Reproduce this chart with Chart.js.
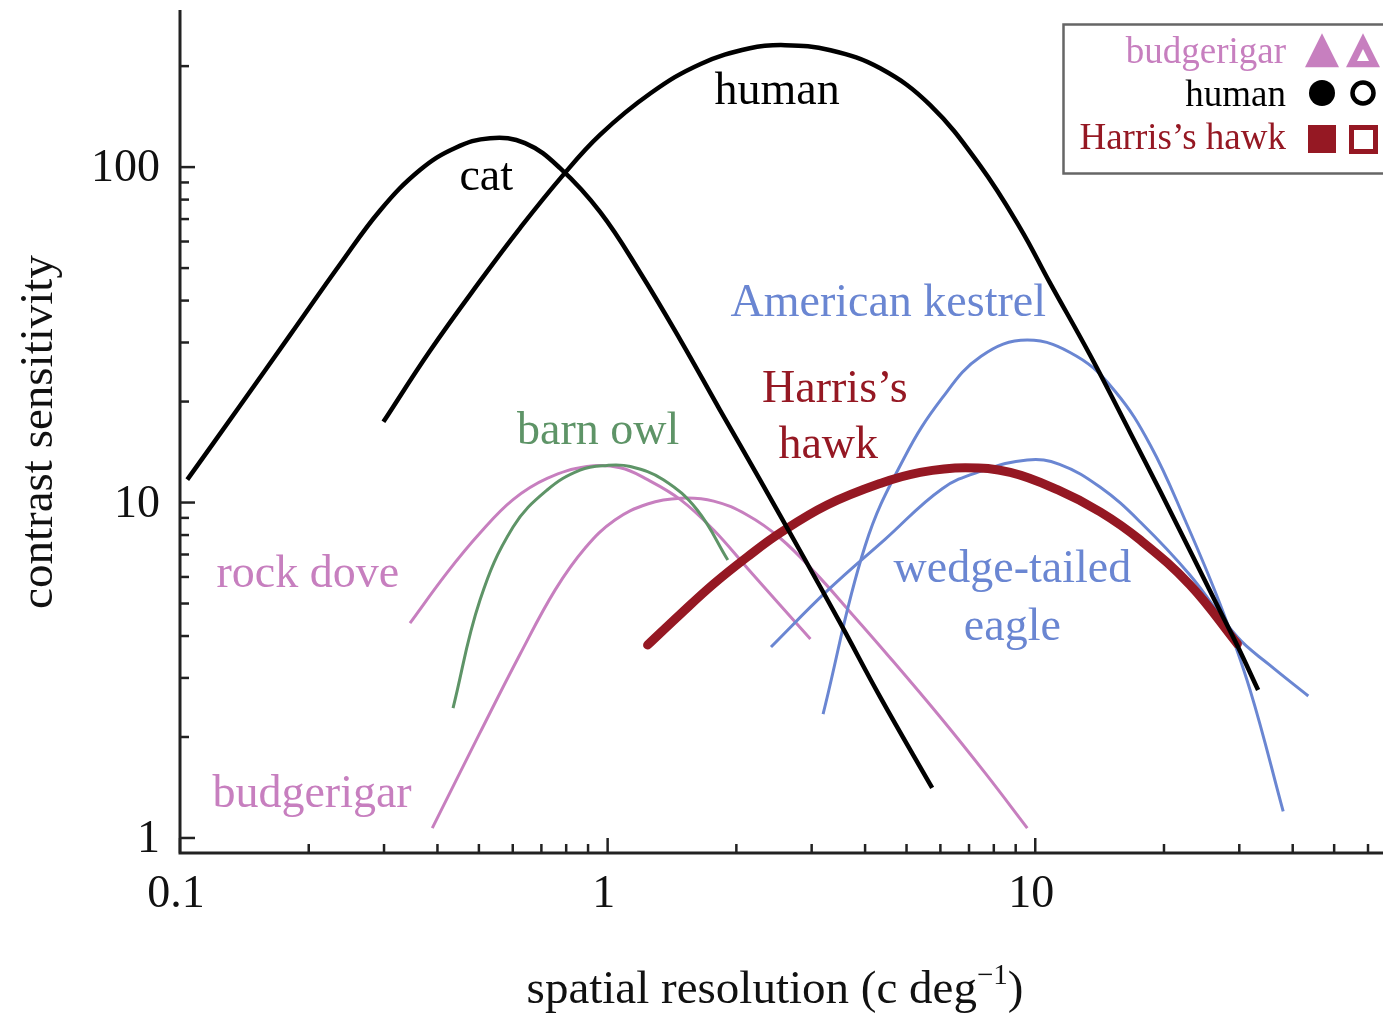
<!DOCTYPE html>
<html>
<head>
<meta charset="utf-8">
<script src="https://cdn.jsdelivr.net/npm/chart.js@4.4.1/dist/chart.umd.min.js"></script>
<style>
  html, body { margin: 0; padding: 0; background: #fff; }
  canvas { display: block; }
</style>
</head>
<body>
<canvas id="csf" width="1383" height="1015"></canvas>
<script>
// contrast sensitivity curves (x: c/deg, y: sensitivity)
const catX   = [0.104, 0.138, 0.181, 0.237, 0.294, 0.364, 0.440, 0.531, 0.641, 0.774, 0.961, 1.19, 1.48, 1.83, 2.27, 2.82, 3.50, 4.34, 5.74];
const catY   = [11.7, 19.4, 31.6, 51.4, 74.4, 98.0, 114.0, 122.0, 117.9, 99.3, 73.4, 48.6, 30.5, 18.9, 11.7, 7.17, 4.37, 2.63, 1.41];

const humanX = [0.299, 0.384, 0.503, 0.624, 0.783, 0.961, 1.26, 1.65, 2.15, 2.60, 3.32, 4.34, 5.68, 7.43, 9.22, 10.8, 13.5, 16.7, 19.6, 23.4, 26.4, 29.7, 33.2];
const humanY = [17.4, 28.3, 45.7, 65.8, 94.0, 125, 166, 203, 226, 231, 223, 197, 153, 101, 65.8, 45.4, 27.2, 16.1, 10.8, 6.88, 5.05, 3.74, 2.76];

const owlX   = [0.435, 0.503, 0.601, 0.722, 0.862, 0.997, 1.13, 1.35, 1.62, 1.91];
const owlY   = [2.44, 5.12, 8.45, 10.9, 12.5, 12.9, 12.8, 11.7, 9.50, 6.74];

const doveX  = [0.345, 0.421, 0.503, 0.601, 0.722, 0.895, 1.07, 1.24, 1.48, 1.77, 2.12, 2.53, 2.98];
const doveY  = [4.37, 6.17, 8.11, 10.2, 11.8, 12.8, 12.7, 11.7, 10.2, 8.28, 6.38, 4.95, 3.92];

const budgieX = [0.389, 0.503, 0.624, 0.754, 0.886, 1.04, 1.24, 1.48, 1.77, 2.12, 2.53, 3.06, 3.69, 4.46, 6.00, 7.64, 9.58];
const budgieY = [1.07, 2.06, 3.53, 5.49, 7.32, 8.87, 9.90, 10.3, 10.1, 9.18, 7.84, 6.17, 4.72, 3.58, 2.29, 1.56, 1.07];

const hawkX  = [1.24, 1.48, 1.77, 2.12, 2.53, 3.26, 4.34, 5.38, 6.86, 8.74, 11.3, 14.2, 17.6, 23.0, 29.7];
const hawkY  = [3.76, 4.65, 5.72, 6.88, 8.11, 9.83, 11.4, 12.3, 12.7, 12.3, 10.9, 9.37, 7.73, 5.68, 3.79];

const kestrelX = [3.19, 4.00, 4.94, 6.06, 7.47, 9.58, 12.5, 15.4, 18.6, 22.4, 27.1, 31.8, 38.0];
const kestrelY = [2.34, 7.42, 13.6, 20.5, 27.3, 30.5, 27.3, 21.4, 14.8, 8.87, 4.95, 2.76, 1.20];

const eagleX = [2.41, 3.26, 4.46, 6.06, 7.47, 9.58, 11.4, 14.2, 17.6, 23.0, 29.7, 35.3, 43.5];
const eagleY = [3.71, 5.45, 7.78, 11.0, 12.4, 13.4, 13.0, 11.1, 8.75, 6.08, 3.97, 3.28, 2.65];

// axis ticks
const xTicks  = [0.1, 0.2, 0.3, 0.4, 0.5, 0.6, 0.7, 0.8, 0.9, 1, 2, 3, 4, 5, 6, 7, 8, 9, 10, 20, 30, 40, 50, 60];
const xLabels = [0.1, 1, 10];
const yTicks  = [1, 2, 3, 4, 5, 6, 7, 8, 9, 10, 20, 30, 40, 50, 60, 70, 80, 90, 100, 200];
const yLabels = [1, 10, 100];

const BLACK = "#000000", PINK = "#c77fbf", GREEN = "#5e9467", BLUE = "#6a86d2", RED = "#951823";
const SERIF = "'Liberation Serif', 'DejaVu Serif', serif";

// curve name labels, placed in data coordinates
const notes = [
  { t: "human",            x: 2.49,  y: 167,  c: BLACK },
  { t: "cat",              x: 0.520, y: 92.7, c: BLACK },
  { t: "American kestrel", x: 4.53,  y: 39.0, c: BLUE },
  { t: "Harris\u2019s",    x: 3.40,  y: 21.6, c: RED },
  { t: "hawk",             x: 3.28,  y: 14.7, c: RED },
  { t: "barn owl",         x: 0.950, y: 16.2, c: GREEN },
  { t: "rock dove",        x: 0.199, y: 6.08, c: PINK },
  { t: "wedge-tailed",     x: 8.84,  y: 6.29, c: BLUE },
  { t: "eagle",            x: 8.84,  y: 4.23, c: BLUE },
  { t: "budgerigar",       x: 0.2036, y: 1.343, c: PINK }
];

const pts = (xs, ys) => xs.map((x, i) => ({ x, y: ys[i] }));
const line = (label, xs, ys, color, w, cap) => ({
  label, data: pts(xs, ys), borderColor: color, borderWidth: w,
  pointRadius: 0, fill: false, tension: 0.4, borderCapStyle: cap || "butt"
});

// ── axes, labels and legend drawn on top of the plot ──────────────────────
const decor = {
  id: "decor",
  afterDatasetsDraw(chart) {
    const { ctx, chartArea: a, scales: { x, y } } = chart;
    ctx.save();

    // curve labels
    ctx.font = "46px " + SERIF;
    ctx.textAlign = "center"; ctx.textBaseline = "middle";
    notes.forEach(n => {
      ctx.fillStyle = n.c;
      ctx.fillText(n.t, x.getPixelForValue(n.x), y.getPixelForValue(n.y));
    });

    // axis lines
    ctx.strokeStyle = "#222"; ctx.lineWidth = 3; ctx.lineCap = "butt";
    ctx.beginPath();
    ctx.moveTo(a.left, a.top); ctx.lineTo(a.left, a.bottom); ctx.lineTo(a.right + 3, a.bottom);
    ctx.stroke();

    // inward ticks
    ctx.lineWidth = 2.5;
    yTicks.forEach(v => {
      const p = y.getPixelForValue(v), len = yLabels.includes(v) ? 15 : 9;
      ctx.beginPath(); ctx.moveTo(a.left, p); ctx.lineTo(a.left + len, p); ctx.stroke();
    });
    xTicks.forEach(v => {
      const p = x.getPixelForValue(v), len = xLabels.includes(v) ? 15 : 9;
      ctx.beginPath(); ctx.moveTo(p, a.bottom); ctx.lineTo(p, a.bottom - len); ctx.stroke();
    });

    // tick labels
    ctx.fillStyle = "#111";
    ctx.font = "46px " + SERIF;
    ctx.textAlign = "right"; ctx.textBaseline = "middle";
    yLabels.forEach(v => ctx.fillText(String(v), a.left - 20, y.getPixelForValue(v) + 2));
    ctx.textAlign = "center";
    xLabels.forEach(v => ctx.fillText(String(v), x.getPixelForValue(v) - 4, a.bottom + 42));

    // axis titles
    ctx.font = "47px " + SERIF;
    ctx.save();
    ctx.translate(40, 432); ctx.rotate(-Math.PI / 2);
    ctx.textAlign = "center"; ctx.textBaseline = "middle";
    ctx.fillText("contrast sensitivity", 0, 0);
    ctx.restore();

    const t1 = "spatial resolution (c deg", sup = "\u22121", t2 = ")";
    ctx.textAlign = "left"; ctx.textBaseline = "alphabetic";
    const w1 = ctx.measureText(t1).width, w3 = ctx.measureText(t2).width;
    ctx.font = "29px " + SERIF;
    const w2 = ctx.measureText(sup).width;
    let tx = 775 - (w1 + w2 + w3) / 2;
    const base = 1003;
    ctx.font = "47px " + SERIF; ctx.fillText(t1, tx, base); tx += w1;
    ctx.font = "29px " + SERIF; ctx.fillText(sup, tx, base - 19); tx += w2;
    ctx.font = "47px " + SERIF; ctx.fillText(t2, tx, base);

    // legend box
    ctx.strokeStyle = "#666"; ctx.lineWidth = 2.5;
    ctx.strokeRect(1063.5, 24.5, 400, 149);
    ctx.font = "37px " + SERIF;
    ctx.textAlign = "right"; ctx.textBaseline = "middle";
    ctx.fillStyle = PINK;  ctx.fillText("budgerigar", 1286, 53);
    ctx.fillStyle = BLACK; ctx.fillText("human", 1286, 96);
    ctx.fillStyle = RED;   ctx.fillText("Harris\u2019s hawk", 1286, 139);

    const tri = (cx, cy, s, col) => {
      ctx.fillStyle = col; ctx.beginPath();
      ctx.moveTo(cx, cy - s * 0.58); ctx.lineTo(cx + s / 2, cy + s * 0.42); ctx.lineTo(cx - s / 2, cy + s * 0.42);
      ctx.closePath(); ctx.fill();
    };
    tri(1322, 53, 34, PINK);
    tri(1363, 53, 34, PINK);
    tri(1363, 56, 12, "#fff");

    ctx.fillStyle = BLACK;
    ctx.beginPath(); ctx.arc(1322, 93, 13, 0, Math.PI * 2); ctx.fill();
    ctx.strokeStyle = BLACK; ctx.lineWidth = 4.5;
    ctx.beginPath(); ctx.arc(1363, 93, 10.5, 0, Math.PI * 2); ctx.stroke();

    ctx.fillStyle = RED; ctx.fillRect(1308, 125, 28, 28);
    ctx.strokeStyle = RED; ctx.lineWidth = 5;
    ctx.strokeRect(1351.5, 127.5, 24, 24);

    ctx.restore();
  }
};

new Chart(document.getElementById("csf"), {
  type: "line",
  data: {
    datasets: [
      line("human", humanX, humanY, BLACK, 4.5),
      line("cat", catX, catY, BLACK, 4.5),
      line("Harris's hawk", hawkX, hawkY, RED, 9, "round"),
      line("American kestrel", kestrelX, kestrelY, BLUE, 3),
      line("wedge-tailed eagle", eagleX, eagleY, BLUE, 3),
      line("barn owl", owlX, owlY, GREEN, 3),
      line("rock dove", doveX, doveY, PINK, 3),
      line("budgerigar", budgieX, budgieY, PINK, 3)
    ]
  },
  options: {
    responsive: false,
    animation: false,
    layout: { padding: { top: 10, right: 3, left: 0, bottom: 0 } },
    plugins: { legend: { display: false }, tooltip: { enabled: false } },
    scales: {
      x: {
        type: "logarithmic", min: 0.1, max: 64, bounds: "data",
        grid: { display: false }, border: { display: false }, ticks: { display: false },
        afterFit: s => { s.height = 162; }
      },
      y: {
        type: "logarithmic", min: 0.902, max: 294, bounds: "data",
        grid: { display: false }, border: { display: false }, ticks: { display: false },
        afterFit: s => { s.width = 180; }
      }
    }
  },
  plugins: [decor]
});
</script>
</body>
</html>
